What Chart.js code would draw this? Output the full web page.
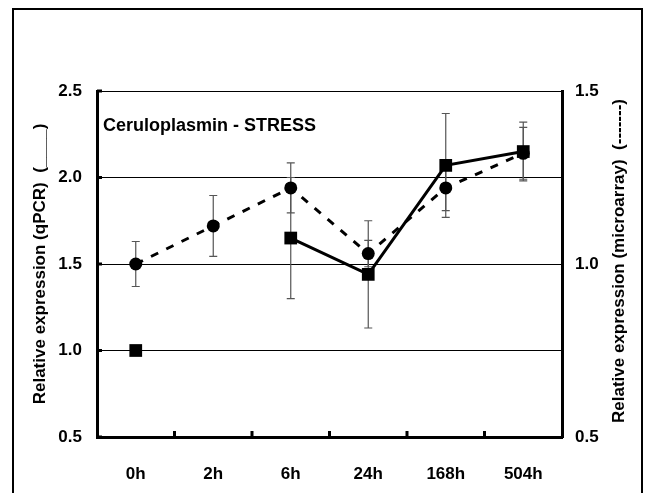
<!DOCTYPE html>
<html>
<head>
<meta charset="utf-8">
<script src="https://cdn.jsdelivr.net/npm/chart.js@4.4.1/dist/chart.umd.min.js"></script>
<style>
  html, body { margin: 0; padding: 0; background: #fff; }
  #wrap { position: relative; width: 649px; height: 493px; overflow: hidden; }
  #frame { position: absolute; left: 12px; top: 8px; width: 631px; height: 520px; border: 2px solid #000; border-bottom: none; box-sizing: border-box; }
  #chart { position: absolute; left: 0; top: 0; }
</style>
</head>
<body>
<div id="wrap">
  <div id="frame"></div>
  <canvas id="chart" width="649" height="493"></canvas>
</div>
<script>
const timepoints = ['0h', '2h', '6h', '24h', '168h', '504h'];
const qpcr = [1.0, null, 1.65, 1.44, 2.07, 2.15];
const qpcrErr = [0, null, 0.35, 0.31, 0.30, 0.17];
const microarray = [1.0, 1.11, 1.22, 1.03, 1.22, 1.32];
const microarrayErr = [0.065, 0.088, 0.072, 0.038, 0.066, 0.075];
const leftTicks = [0.5, 1.0, 1.5, 2.0, 2.5];
const rightTicks = [0.5, 1.0, 1.5];

const chartTitle = 'Ceruloplasmin - STRESS';
const leftTitle = 'Relative expression (qPCR)  (____)';
const rightTitle = 'Relative expression (microarray)  (-------)';
const FONT = '"Liberation Sans", Arial, sans-serif';

// error bars, inward ticks, in-plot title and the right axis title
const extras = {
  id: 'extras',
  beforeDatasetsDraw(chart) {
    const ctx = chart.ctx;
    const x = chart.scales.x;
    ctx.save();
    ctx.strokeStyle = '#555';
    ctx.lineWidth = 1.2;
    chart.data.datasets.forEach((ds) => {
      const y = chart.scales[ds.yAxisID];
      ds.data.forEach((v, i) => {
        const e = ds.errors[i];
        if (v == null || !e) return;
        const px = x.getPixelForValue(i);
        const top = y.getPixelForValue(v + e);
        const bot = y.getPixelForValue(v - e);
        ctx.beginPath();
        ctx.moveTo(px, top); ctx.lineTo(px, bot);
        ctx.moveTo(px - 4, top); ctx.lineTo(px + 4, top);
        ctx.moveTo(px - 4, bot); ctx.lineTo(px + 4, bot);
        ctx.stroke();
      });
    });
    ctx.restore();
  },
  afterDraw(chart) {
    const ctx = chart.ctx;
    const area = chart.chartArea;
    const x = chart.scales.x;
    const yl = chart.scales.y;
    ctx.save();
    ctx.strokeStyle = '#000';
    ctx.lineWidth = 3;
    ctx.beginPath();
    for (let i = 1; i < timepoints.length; i++) {
      const px = (x.getPixelForValue(i - 1) + x.getPixelForValue(i)) / 2;
      ctx.moveTo(px, area.bottom);
      ctx.lineTo(px, area.bottom - 6);
    }
    leftTicks.forEach((t) => {
      const py = yl.getPixelForValue(t);
      ctx.moveTo(area.left, py);
      ctx.lineTo(area.left + 5, py);
    });
    ctx.stroke();

    ctx.fillStyle = '#000';
    ctx.font = 'bold 18px ' + FONT;
    ctx.textAlign = 'left';
    ctx.textBaseline = 'alphabetic';
    ctx.fillText(chartTitle, area.left + 6, 131);

    ctx.font = 'bold 17px ' + FONT;
    ctx.textAlign = 'center';
    ctx.textBaseline = 'middle';
    ctx.translate(619, (area.top + area.bottom) / 2 - 3);
    ctx.rotate(-Math.PI / 2);
    ctx.fillText(rightTitle, 0, 0);
    ctx.restore();
  }
};

const ctx = document.getElementById('chart').getContext('2d');
const chart = new Chart(ctx, {
  type: 'line',
  data: {
    labels: timepoints,
    datasets: [{
      label: 'qPCR',
      data: qpcr,
      errors: qpcrErr,
      yAxisID: 'y',
      borderColor: '#000',
      backgroundColor: '#000',
      borderWidth: 3,
      pointStyle: 'rect',
      pointRadius: 9,
      pointBorderWidth: 0,
      spanGaps: false,
    }, {
      label: 'microarray',
      data: microarray,
      errors: microarrayErr,
      yAxisID: 'y1',
      borderColor: '#000',
      backgroundColor: '#000',
      borderWidth: 3,
      borderDash: [8, 9],
      pointStyle: 'circle',
      pointRadius: 6.5,
      pointBorderWidth: 0,
    }]
  },
  options: {
    responsive: false,
    animation: false,
    layout: { padding: { top: 91, left: 0, right: 0, bottom: 0 } },
    plugins: {
      legend: { display: false },
      tooltip: { enabled: false },
    },
    scales: {
      x: {
        offset: true,
        grid: { display: false },
        border: { display: true, color: '#000', width: 3 },
        ticks: {
          color: '#000',
          padding: 19,
          font: { family: FONT, size: 17, weight: 'bold' },
        },
        afterFit(scale) { scale.height = 56; },
      },
      y: {
        position: 'left',
        min: 0.5,
        max: 2.5,
        afterBuildTicks(scale) { scale.ticks = leftTicks.map(v => ({ value: v })); },
        grid: { color: '#000', lineWidth: 1, drawTicks: false },
        border: { display: true, color: '#000', width: 3 },
        ticks: {
          color: '#000',
          padding: 15,
          font: { family: FONT, size: 17, weight: 'bold' },
          callback: v => Number(v).toFixed(1),
        },
        title: {
          display: true,
          text: leftTitle,
          color: '#000',
          padding: { top: 30, bottom: 0 },
          font: { family: FONT, size: 17, weight: 'bold' },
        },
        afterFit(scale) { scale.width = 97; },
      },
      y1: {
        position: 'right',
        min: 0.5,
        max: 1.5,
        afterBuildTicks(scale) { scale.ticks = rightTicks.map(v => ({ value: v })); },
        grid: { drawOnChartArea: false, drawTicks: false },
        border: { display: true, color: '#000', width: 3 },
        ticks: {
          color: '#000',
          padding: 13,
          font: { family: FONT, size: 17, weight: 'bold' },
          callback: v => Number(v).toFixed(1),
        },
        afterFit(scale) { scale.width = 87; },
      },
    },
  },
  plugins: [extras],
});
</script>
</body>
</html>
